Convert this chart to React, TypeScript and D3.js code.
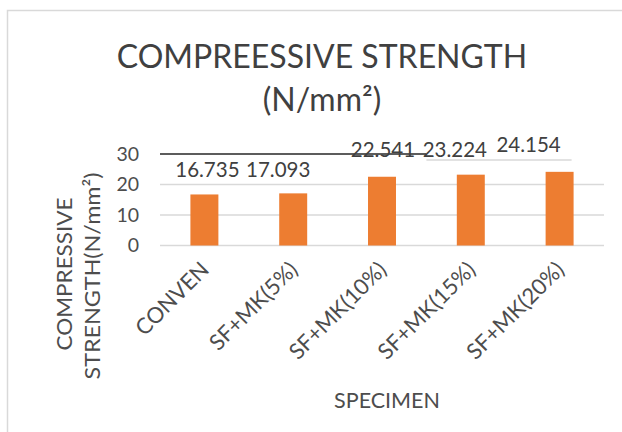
import React from "react";
import * as d3 from "d3";

const categories = ["CONVEN", "SF+MK(5%)", "SF+MK(10%)", "SF+MK(15%)", "SF+MK(20%)"];
const values = [16.735, 17.093, 22.541, 23.224, 24.154];
const valueLabels = ["16.735", "17.093", "22.541", "23.224", "24.154"];
const yTicks = [0, 10, 20, 30];
// label nudges (dx, dy from bar top) as placed in the reference
const labelDx = [3, -15, 1, -16, -31];
const labelDy = [-17.5, -16.5, -19.7, -17.6, -19.7];

const W = 622;
const H = 432;
const FONT = "Lato, 'Open Sans', sans-serif";

export default function App() {
  const x = d3
    .scaleBand<string>()
    .domain(categories)
    .range([160, 604])
    .paddingInner(0.685)
    .paddingOuter(0.3425);
  const y = d3.scaleLinear().domain([0, 30]).range([245.5, 154]);
  const bw = x.bandwidth();
  const step = x.step();
  const xEndBlack = (x(categories[2]) as number) + bw + (step - bw) / 2;
  const xEndGray = (x(categories[4]) as number) + bw - 2;

  return (
    <svg
      width={W}
      height={H}
      style={{ position: "absolute", left: 0, top: 0, background: "#fff" }}
      fontFamily={FONT}
    >
      <rect x={7.5} y={10.5} width={700} height={500} fill="#fff" stroke="#d9d9d9" strokeWidth={1.5} />
      {/* title */}
      <text x={322} y={68} textAnchor="middle" fontSize={32} fill="#404040">
        COMPREESSIVE STRENGTH
      </text>
      <text x={322} y={111} textAnchor="middle" fontSize={32} fill="#404040">
        (N/mm²)
      </text>
      {/* gridlines */}
      {yTicks
        .filter((t) => t !== 30)
        .map((t) => (
          <line key={t} x1={160} x2={604} y1={y(t)} y2={y(t)} stroke="#d9d9d9" strokeWidth={1.3} />
        ))}
      <line x1={160} x2={xEndBlack} y1={y(30)} y2={y(30)} stroke="#262626" strokeWidth={1.6} />
      <line x1={xEndBlack} x2={xEndGray} y1={y(30) + 6} y2={y(30) + 6} stroke="#d9d9d9" strokeWidth={1.3} />
      {/* y ticks */}
      {yTicks.map((t) => (
        <text key={t} x={139} y={y(t)} dy="0.35em" textAnchor="end" fontSize={19.5} fill="#4d4d4d">
          {t}
        </text>
      ))}
      {/* bars */}
      {categories.map((c, i) => (
        <rect key={c} x={x(c)} y={y(values[i])} width={bw} height={y(0) - y(values[i])} fill="#ED7D31" />
      ))}
      {/* value labels */}
      {categories.map((c, i) => (
        <text
          key={c}
          x={(x(c) as number) + bw / 2 + labelDx[i]}
          y={y(values[i]) + labelDy[i]}
          textAnchor="middle"
          fontSize={20.5}
          fill="#404040"
        >
          {valueLabels[i]}
        </text>
      ))}
      {/* x tick labels */}
      {categories.map((c) => (
        <text
          key={c}
          transform={`translate(${(x(c) as number) + bw / 2 + 6},${271}) rotate(-45)`}
          textAnchor="end"
          fontSize={22}
          fill="#4d4d4d"
        >
          {c}
        </text>
      ))}
      {/* axis titles */}
      <text x={387} y={408} textAnchor="middle" fontSize={21.5} fill="#4d4d4d">
        SPECIMEN
      </text>
      <text
        transform="translate(72,274) rotate(-90)"
        textAnchor="middle"
        fontSize={22}
        textLength={153}
        lengthAdjust="spacingAndGlyphs"
        fill="#4d4d4d"
      >
        COMPRESSIVE
      </text>
      <text
        transform="translate(100,276) rotate(-90)"
        textAnchor="middle"
        fontSize={22}
        textLength={207}
        lengthAdjust="spacingAndGlyphs"
        fill="#4d4d4d"
      >
        STRENGTH(N/mm²)
      </text>
    </svg>
  );
}
